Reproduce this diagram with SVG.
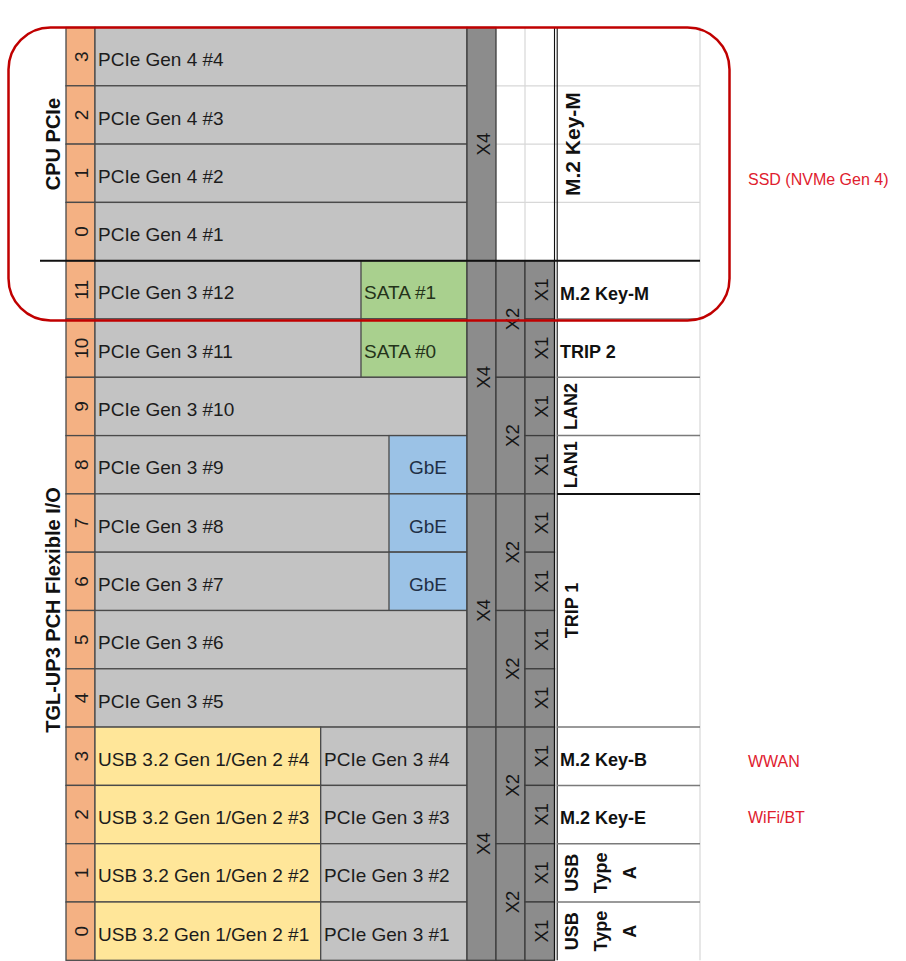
<svg xmlns="http://www.w3.org/2000/svg" width="906" height="961" viewBox="0 0 906 961">
<style>
.c{stroke:#4a4a4a;stroke-width:1.3}
.o{fill:#F4B183}
.g{fill:#C3C3C3}
.s{fill:#A9D08E}
.e{fill:#9BC2E6}
.y{fill:#FFE699}
.x{fill:#8C8C8C;stroke:#3c3c3c;stroke-width:1.3}
.t{font-family:"Liberation Sans",Arial,sans-serif;font-size:19px;fill:#1c1c1c}
.xl{font-family:"Liberation Sans",Arial,sans-serif;font-size:18.5px;fill:#151515}
.b{font-family:"Liberation Sans",Arial,sans-serif;font-size:18px;font-weight:bold;fill:#111}
.big{font-family:"Liberation Sans",Arial,sans-serif;font-size:20px;font-weight:bold;fill:#111}
.r{font-family:"Liberation Sans",Arial,sans-serif;font-size:16px;fill:#E0202E}
.m{text-anchor:middle}
.faint{stroke:#D8D8D8;stroke-width:1.2;fill:none}
.gl{stroke:#7a7a7a;stroke-width:1.5;fill:none}
.bk{stroke:#111;stroke-width:2;fill:none}
</style>
<rect x="0" y="0" width="906" height="961" fill="#fff"/>

<!-- left side labels -->
<g id="label-cpu"><text class="big m" transform="translate(60,144.1) rotate(-90)">CPU PCIe</text></g>
<g id="label-pch"><text class="big m" transform="translate(60,610) rotate(-90)">TGL-UP3 PCH Flexible I/O</text></g>

<!-- lanes -->
<g id="lane-cpu3"><rect class="c o" x="66" y="27.5" width="29" height="58.3"/><rect class="c g" x="95" y="27.5" width="372" height="58.3"/><text class="t m" transform="translate(88,56.65) rotate(-90)">3</text><text class="t" x="98" y="66.2">PCIe Gen 4 #4</text></g>
<g id="lane-cpu2"><rect class="c o" x="66" y="85.8" width="29" height="58.3"/><rect class="c g" x="95" y="85.8" width="372" height="58.3"/><text class="t m" transform="translate(88,114.95) rotate(-90)">2</text><text class="t" x="98" y="124.5">PCIe Gen 4 #3</text></g>
<g id="lane-cpu1"><rect class="c o" x="66" y="144.1" width="29" height="58.3"/><rect class="c g" x="95" y="144.1" width="372" height="58.3"/><text class="t m" transform="translate(88,173.25) rotate(-90)">1</text><text class="t" x="98" y="182.8">PCIe Gen 4 #2</text></g>
<g id="lane-cpu0"><rect class="c o" x="66" y="202.4" width="29" height="58.3"/><rect class="c g" x="95" y="202.4" width="372" height="58.3"/><text class="t m" transform="translate(88,231.55) rotate(-90)">0</text><text class="t" x="98" y="241.1">PCIe Gen 4 #1</text></g>

<g id="lane-pch11"><rect class="c o" x="66" y="260.7" width="29" height="58.3"/><rect class="c g" x="95" y="260.7" width="372" height="58.3"/><rect class="c s" x="361" y="260.7" width="106" height="58.3"/><text class="t m" transform="translate(88,289.85) rotate(-90)">11</text><text class="t" x="98" y="299.4">PCIe Gen 3 #12</text><text class="t" x="364" y="299.4" style="fill:#24331a">SATA #1</text></g>
<g id="lane-pch10"><rect class="c o" x="66" y="319" width="29" height="58.3"/><rect class="c g" x="95" y="319" width="372" height="58.3"/><rect class="c s" x="361" y="319" width="106" height="58.3"/><text class="t m" transform="translate(88,348.15) rotate(-90)">10</text><text class="t" x="98" y="357.7">PCIe Gen 3 #11</text><text class="t" x="364" y="357.7" style="fill:#24331a">SATA #0</text></g>
<g id="lane-pch9"><rect class="c o" x="66" y="377.3" width="29" height="58.3"/><rect class="c g" x="95" y="377.3" width="372" height="58.3"/><text class="t m" transform="translate(88,406.45) rotate(-90)">9</text><text class="t" x="98" y="416">PCIe Gen 3 #10</text></g>
<g id="lane-pch8"><rect class="c o" x="66" y="435.6" width="29" height="58.3"/><rect class="c g" x="95" y="435.6" width="372" height="58.3"/><rect class="c e" x="389" y="435.6" width="78" height="58.3"/><text class="t m" transform="translate(88,464.75) rotate(-90)">8</text><text class="t" x="98" y="474.3">PCIe Gen 3 #9</text><text class="t m" x="428" y="474.3" style="fill:#1f2f45">GbE</text></g>
<g id="lane-pch7"><rect class="c o" x="66" y="493.9" width="29" height="58.3"/><rect class="c g" x="95" y="493.9" width="372" height="58.3"/><rect class="c e" x="389" y="493.9" width="78" height="58.3"/><text class="t m" transform="translate(88,523.05) rotate(-90)">7</text><text class="t" x="98" y="532.6">PCIe Gen 3 #8</text><text class="t m" x="428" y="532.6" style="fill:#1f2f45">GbE</text></g>
<g id="lane-pch6"><rect class="c o" x="66" y="552.2" width="29" height="58.3"/><rect class="c g" x="95" y="552.2" width="372" height="58.3"/><rect class="c e" x="389" y="552.2" width="78" height="58.3"/><text class="t m" transform="translate(88,581.35) rotate(-90)">6</text><text class="t" x="98" y="590.9">PCIe Gen 3 #7</text><text class="t m" x="428" y="590.9" style="fill:#1f2f45">GbE</text></g>
<g id="lane-pch5"><rect class="c o" x="66" y="610.5" width="29" height="58.3"/><rect class="c g" x="95" y="610.5" width="372" height="58.3"/><text class="t m" transform="translate(88,639.65) rotate(-90)">5</text><text class="t" x="98" y="649.2">PCIe Gen 3 #6</text></g>
<g id="lane-pch4"><rect class="c o" x="66" y="668.8" width="29" height="58.3"/><rect class="c g" x="95" y="668.8" width="372" height="58.3"/><text class="t m" transform="translate(88,697.95) rotate(-90)">4</text><text class="t" x="98" y="707.5">PCIe Gen 3 #5</text></g>
<g id="lane-pch3"><rect class="c o" x="66" y="727.1" width="29" height="58.3"/><rect class="c y" x="95" y="727.1" width="225.7" height="58.3"/><rect class="c g" x="320.7" y="727.1" width="146.3" height="58.3"/><text class="t m" transform="translate(88,756.25) rotate(-90)">3</text><text class="t" x="98" y="765.8">USB 3.2 Gen 1/Gen 2 #4</text><text class="t" x="324" y="765.8">PCIe Gen 3 #4</text></g>
<g id="lane-pch2"><rect class="c o" x="66" y="785.4" width="29" height="58.3"/><rect class="c y" x="95" y="785.4" width="225.7" height="58.3"/><rect class="c g" x="320.7" y="785.4" width="146.3" height="58.3"/><text class="t m" transform="translate(88,814.55) rotate(-90)">2</text><text class="t" x="98" y="824.1">USB 3.2 Gen 1/Gen 2 #3</text><text class="t" x="324" y="824.1">PCIe Gen 3 #3</text></g>
<g id="lane-pch1"><rect class="c o" x="66" y="843.7" width="29" height="58.3"/><rect class="c y" x="95" y="843.7" width="225.7" height="58.3"/><rect class="c g" x="320.7" y="843.7" width="146.3" height="58.3"/><text class="t m" transform="translate(88,872.85) rotate(-90)">1</text><text class="t" x="98" y="882.4">USB 3.2 Gen 1/Gen 2 #2</text><text class="t" x="324" y="882.4">PCIe Gen 3 #2</text></g>
<g id="lane-pch0"><rect class="c o" x="66" y="902" width="29" height="58.3"/><rect class="c y" x="95" y="902" width="225.7" height="58.3"/><rect class="c g" x="320.7" y="902" width="146.3" height="58.3"/><text class="t m" transform="translate(88,931.15) rotate(-90)">0</text><text class="t" x="98" y="940.7">USB 3.2 Gen 1/Gen 2 #1</text><text class="t" x="324" y="940.7">PCIe Gen 3 #1</text></g>

<!-- faint gridlines in white areas -->
<g id="grid">
<path class="faint" d="M496 27.5H700M496 85.8H700M496 144.1H700M496 202.4H700M525 27.5V260.7M700 27.5V960.3"/>
</g>

<!-- X4 bars -->
<g id="x4">
<rect class="x" x="467" y="27.5" width="29" height="233.2"/><text class="xl m" transform="translate(490,144.1) rotate(-90)">X4</text>
<rect class="x" x="467" y="260.7" width="29" height="233.2"/><text class="xl m" transform="translate(490,377.3) rotate(-90)">X4</text>
<rect class="x" x="467" y="493.9" width="29" height="233.2"/><text class="xl m" transform="translate(490,610.5) rotate(-90)">X4</text>
<rect class="x" x="467" y="727.1" width="29" height="233.2"/><text class="xl m" transform="translate(490,843.7) rotate(-90)">X4</text>
</g>
<!-- X2 bars -->
<g id="x2">
<rect class="x" x="496" y="260.7" width="29" height="116.6"/><text class="xl m" transform="translate(519,319) rotate(-90)">X2</text>
<rect class="x" x="496" y="377.3" width="29" height="116.6"/><text class="xl m" transform="translate(519,435.6) rotate(-90)">X2</text>
<rect class="x" x="496" y="493.9" width="29" height="116.6"/><text class="xl m" transform="translate(519,552.2) rotate(-90)">X2</text>
<rect class="x" x="496" y="610.5" width="29" height="116.6"/><text class="xl m" transform="translate(519,668.8) rotate(-90)">X2</text>
<rect class="x" x="496" y="727.1" width="29" height="116.6"/><text class="xl m" transform="translate(519,785.4) rotate(-90)">X2</text>
<rect class="x" x="496" y="843.7" width="29" height="116.6"/><text class="xl m" transform="translate(519,902) rotate(-90)">X2</text>
</g>
<!-- X1 bars -->
<g id="x1">
<rect class="x" x="525" y="260.7" width="29.5" height="58.3"/><text class="xl m" transform="translate(548,289.85) rotate(-90)">X1</text>
<rect class="x" x="525" y="319" width="29.5" height="58.3"/><text class="xl m" transform="translate(548,348.15) rotate(-90)">X1</text>
<rect class="x" x="525" y="377.3" width="29.5" height="58.3"/><text class="xl m" transform="translate(548,406.45) rotate(-90)">X1</text>
<rect class="x" x="525" y="435.6" width="29.5" height="58.3"/><text class="xl m" transform="translate(548,464.75) rotate(-90)">X1</text>
<rect class="x" x="525" y="493.9" width="29.5" height="58.3"/><text class="xl m" transform="translate(548,523.05) rotate(-90)">X1</text>
<rect class="x" x="525" y="552.2" width="29.5" height="58.3"/><text class="xl m" transform="translate(548,581.35) rotate(-90)">X1</text>
<rect class="x" x="525" y="610.5" width="29.5" height="58.3"/><text class="xl m" transform="translate(548,639.65) rotate(-90)">X1</text>
<rect class="x" x="525" y="668.8" width="29.5" height="58.3"/><text class="xl m" transform="translate(548,697.95) rotate(-90)">X1</text>
<rect class="x" x="525" y="727.1" width="29.5" height="58.3"/><text class="xl m" transform="translate(548,756.25) rotate(-90)">X1</text>
<rect class="x" x="525" y="785.4" width="29.5" height="58.3"/><text class="xl m" transform="translate(548,814.55) rotate(-90)">X1</text>
<rect class="x" x="525" y="843.7" width="29.5" height="58.3"/><text class="xl m" transform="translate(548,872.85) rotate(-90)">X1</text>
<rect class="x" x="525" y="902" width="29.5" height="58.3"/><text class="xl m" transform="translate(548,931.15) rotate(-90)">X1</text>
</g>

<!-- separator lines -->
<g id="lines">
<path d="M554.5 27.5V960.3M557.2 27.5V960.3" stroke="#111" stroke-width="1.1" fill="none"/>
<path class="gl" d="M557 319H700M557 377.3H700M557 435.6H700M557 727.1H700M557 785.4H700M557 843.7H700M557 902H700"/>
<path class="bk" d="M40 260.7H700M557 493.9H700"/>
</g>

<!-- right connector labels -->
<g id="port-m2-cpu"><text class="b m" style="font-size:21px" transform="translate(580,144.1) rotate(-90)">M.2 Key-M</text></g>
<g id="port-m2-pch"><text class="b" x="560" y="299.8">M.2 Key-M</text></g>
<g id="port-trip2"><text class="b" x="560" y="358.2">TRIP 2</text></g>
<g id="port-lan2"><text class="b m" transform="translate(577,406.45) rotate(-90)">LAN2</text></g>
<g id="port-lan1"><text class="b m" transform="translate(577,464.75) rotate(-90)">LAN1</text></g>
<g id="port-trip1"><text class="b m" transform="translate(578,610.5) rotate(-90)">TRIP 1</text></g>
<g id="port-m2b"><text class="b" x="560" y="766">M.2 Key-B</text></g>
<g id="port-m2e"><text class="b" x="560" y="824.3">M.2 Key-E</text></g>
<g id="port-usb1"><text class="b m" transform="translate(578,872.85) rotate(-90)">USB</text><text class="b m" transform="translate(607,872.85) rotate(-90)">Type</text><text class="b m" transform="translate(636,872.85) rotate(-90)">A</text></g>
<g id="port-usb0"><text class="b m" transform="translate(578,931.15) rotate(-90)">USB</text><text class="b m" transform="translate(607,931.15) rotate(-90)">Type</text><text class="b m" transform="translate(636,931.15) rotate(-90)">A</text></g>

<!-- highlight -->
<g id="highlight"><rect x="8.5" y="27.5" width="721" height="293" rx="42" ry="42" fill="none" stroke="#C00000" stroke-width="2.5"/></g>

<g id="notes">
<text class="r" x="748" y="185">SSD (NVMe Gen 4)</text>
<text class="r" x="748" y="767">WWAN</text>
<text class="r" x="748" y="823">WiFi/BT</text>
</g>
</svg>
